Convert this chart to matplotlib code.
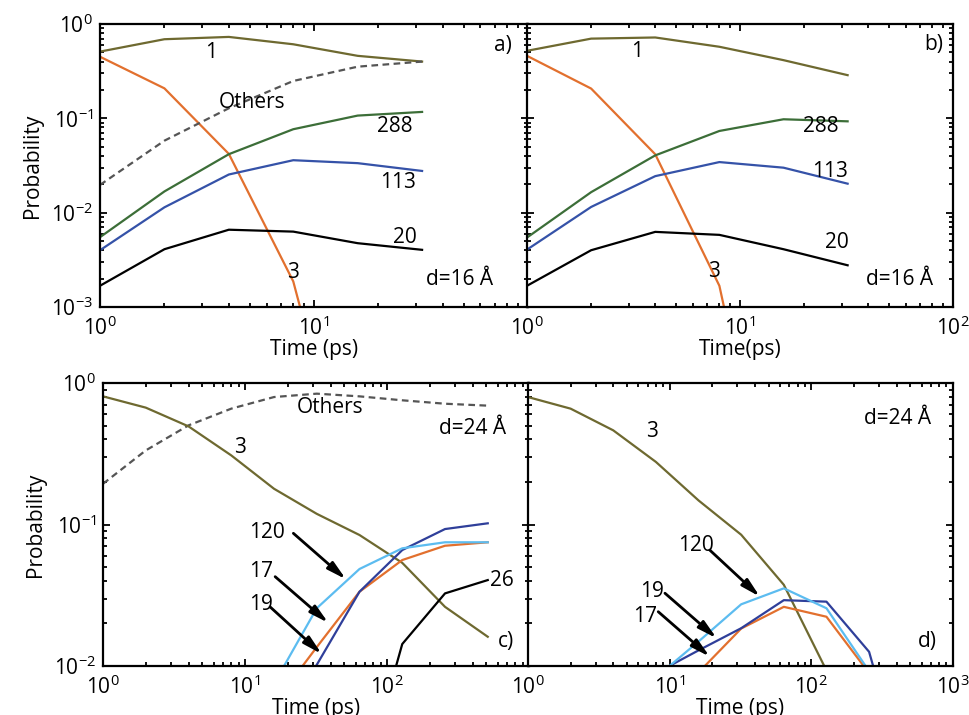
import numpy as np
import matplotlib
matplotlib.use("Agg")
import matplotlib.pyplot as plt
from matplotlib.ticker import LogLocator, NullFormatter

plt.rcParams['font.family'] = ['Open Sans', 'DejaVu Sans']
plt.rcParams['mathtext.fontset'] = 'custom'
plt.rcParams['mathtext.rm'] = 'Open Sans'
plt.rcParams['mathtext.it'] = 'Open Sans:italic'
plt.rcParams['font.size'] = 14

nan = np.nan

# d = 16 A, panels a) and b)
t16 = [1, 2, 4, 8, 16, 32]
a_1 = [0.51, 0.69, 0.73, 0.61, 0.46, 0.40]
a_3 = [0.45, 0.208, 0.042, 0.00187, 5e-6, 1e-8]
a_others = [0.0197, 0.058, 0.128, 0.249, 0.353, 0.40]
a_288 = [0.0055, 0.0168, 0.0417, 0.0767, 0.107, 0.117]
a_113 = [0.0040, 0.0114, 0.0254, 0.036, 0.0335, 0.0277]
a_20 = [0.00168, 0.0041, 0.0066, 0.0063, 0.00475, 0.00404]

b_1 = [0.52, 0.70, 0.72, 0.574, 0.414, 0.287]
b_3 = [0.46, 0.207, 0.0416, 0.00168, 1.3e-6, 1e-9]
b_288 = [0.00545, 0.0165, 0.0405, 0.0735, 0.0978, 0.093]
b_113 = [0.00406, 0.0115, 0.0244, 0.0344, 0.030, 0.0203]
b_20 = [0.00168, 0.0040, 0.00626, 0.00582, 0.0041, 0.00277]

# d = 24 A, panels c) and d)
t24 = [1, 2, 4, 8, 16, 32, 64, 128, 256, 512]
c_3 = [0.805, 0.67, 0.494, 0.308, 0.179, 0.119, 0.0843, 0.0536, 0.0262, 0.0161]
c_others = [0.194, 0.334, 0.502, 0.659, 0.796, 0.841, 0.805, 0.755, 0.714, 0.692]
c_120 = [nan, nan, nan, nan, 0.0075, 0.0256, 0.0485, 0.0679, 0.0749, 0.0749]
c_17 = [nan, nan, nan, nan, 0.0054, 0.0136, 0.0335, 0.0561, 0.0708, 0.0749]
c_19 = [nan, nan, nan, nan, 0.0031, 0.0102, 0.0335, 0.066, 0.0929, 0.102]
c_26 = [nan, nan, nan, nan, nan, nan, 0.0012, 0.0143, 0.0326, 0.0405]

d_3 = [0.796, 0.659, 0.463, 0.277, 0.148, 0.0847, 0.0375, 0.0093, nan, nan]
d_120 = [nan, nan, nan, 0.0083, 0.0149, 0.0273, 0.0354, 0.0256, 0.0092, nan]
d_19 = [nan, nan, nan, 0.0089, 0.0129, 0.0185, 0.0292, 0.0285, 0.0126, 0.0011]
d_17 = [nan, nan, nan, nan, 0.009, 0.0184, 0.0262, 0.0223, 0.0089, nan]

olive = '#6e6930'
orange = '#e2702e'
green = '#3c6e38'
blue = '#3552a8'
dblue = '#2f3f9a'
lblue = '#5cbcf0'
grey = '#555555'
lw = 1.6


def style(ax, xmax, ymin, ylabels, xlabels, xlabel, ylabel=None):
    ax.set_xscale('log')
    ax.set_yscale('log')
    ax.set_xlim(1, xmax)
    ax.set_ylim(ymin, 1)
    for s in ax.spines.values():
        s.set_linewidth(1.6)
    ax.xaxis.set_minor_locator(LogLocator(base=10, subs=np.arange(2, 10)))
    ax.yaxis.set_minor_locator(LogLocator(base=10, subs=np.arange(2, 10)))
    ax.xaxis.set_minor_formatter(NullFormatter())
    ax.yaxis.set_minor_formatter(NullFormatter())
    ax.tick_params(which='both', direction='in', top=True, right=True, width=1.3)
    ax.tick_params(which='major', length=5)
    ax.tick_params(which='minor', length=3)
    ax.tick_params(axis='x', which='major', pad=7, labelsize=15)
    ax.tick_params(axis='y', which='major', pad=5, labelsize=15)
    xt = [10.0 ** k for k in range(len(xlabels))]
    ax.set_xticks(xt)
    ax.set_xticklabels(xlabels)
    yt = [10.0 ** -k for k in range(len(ylabels))]
    ax.set_yticks(yt)
    ax.set_yticklabels(ylabels)
    ax.set_xlabel(xlabel, fontsize=15, labelpad=-1)
    if ylabel:
        ax.set_ylabel(ylabel, fontsize=15, labelpad=6)


fig = plt.figure(figsize=(9.7, 7.15), dpi=100)

# a)
ax = fig.add_axes([0.1031, 0.5706, 0.4412, 0.3958])
ax.plot(t16, a_1, color=olive, lw=lw)
ax.plot(t16, a_3, color=orange, lw=lw)
ax.plot(t16, a_others, color=grey, lw=lw, ls=(0, (3, 2)))
ax.plot(t16, a_288, color=green, lw=lw)
ax.plot(t16, a_113, color=blue, lw=lw)
ax.plot(t16, a_20, color='black', lw=lw)
style(ax, 100, 1e-3, ['$10^{0}$', '$10^{-1}$', '$10^{-2}$', '$10^{-3}$'],
      ['$10^{0}$', '$10^{1}$', ''], 'Time (ps)', 'Probability')
for s, x, y in [('1', 3.3, 0.505), ('Others', 5.13, 0.149), ('288', 23.9, 0.081),
                ('113', 24.7, 0.0211), ('20', 26.6, 0.00552), ('3', 7.97, 0.00235),
                ('d=16 Å', 48.1, 0.00198), ('a)', 76.4, 0.585)]:
    ax.text(x, y, s, ha='center', va='center', fontsize=15)

# b)
ax = fig.add_axes([0.5433, 0.5706, 0.4392, 0.3958])
ax.plot(t16, b_1, color=olive, lw=lw)
ax.plot(t16, b_3, color=orange, lw=lw)
ax.plot(t16, b_288, color=green, lw=lw)
ax.plot(t16, b_113, color=blue, lw=lw)
ax.plot(t16, b_20, color='black', lw=lw)
style(ax, 100, 1e-3, ['', '', '', ''],
      ['$10^{0}$', '$10^{1}$', '$10^{2}$'], 'Time(ps)')
for s, x, y in [('1', 3.28, 0.516), ('288', 24.0, 0.082), ('113', 26.5, 0.0273),
                ('20', 28.5, 0.0048), ('3', 7.55, 0.00236),
                ('d=16 Å', 56.4, 0.00194), ('b)', 81.5, 0.613)]:
    ax.text(x, y, s, ha='center', va='center', fontsize=15)

arrow = dict(arrowstyle='-|>,head_width=0.2,head_length=0.8', color='black',
             lw=2, shrinkA=0, shrinkB=0)

# c)
ax = fig.add_axes([0.1062, 0.0685, 0.4392, 0.3958])
ax.plot(t24, c_others, color=grey, lw=lw, ls=(0, (3, 2)))
ax.plot(t24, c_3, color=olive, lw=lw)
ax.plot(t24, c_26, color='black', lw=lw)
ax.plot(t24, c_17, color=orange, lw=lw)
ax.plot(t24, c_19, color=dblue, lw=lw)
ax.plot(t24, c_120, color=lblue, lw=lw)
style(ax, 1000, 1e-2, ['$10^{0}$', '$10^{-1}$', '$10^{-2}$'],
      ['$10^{0}$', '$10^{1}$', '$10^{2}$', ''], 'Time (ps)', 'Probability')
for s, x, y in [('Others', 39.7, 0.671), ('d=24 Å', 403, 0.481), ('3', 9.22, 0.353),
                ('120', 14.3, 0.0885), ('17', 12.97, 0.0462), ('19', 12.97, 0.0274),
                ('26', 645, 0.0405), ('c)', 689, 0.0148)]:
    ax.text(x, y, s, ha='center', va='center', fontsize=15)
ax.annotate('', xy=(51.4, 0.041), xytext=(21.9, 0.0867), arrowprops=arrow)
ax.annotate('', xy=(38.6, 0.0202), xytext=(16.3, 0.0428), arrowprops=arrow)
ax.annotate('', xy=(34.7, 0.01216), xytext=(15.0, 0.0262), arrowprops=arrow)

# d)
ax = fig.add_axes([0.5443, 0.0685, 0.4381, 0.3958])
ax.plot(t24, d_3, color=olive, lw=lw)
ax.plot(t24, d_17, color=orange, lw=lw)
ax.plot(t24, d_19, color=dblue, lw=lw)
ax.plot(t24, d_120, color=lblue, lw=lw)
style(ax, 1000, 1e-2, ['', '', ''],
      ['$10^{0}$', '$10^{1}$', '$10^{2}$', '$10^{3}$'], 'Time (ps)')
for s, x, y in [('3', 7.46, 0.453), ('d=24 Å', 408, 0.566), ('d)', 665, 0.0149),
                ('120', 15.3, 0.0716), ('19', 7.46, 0.0335), ('17', 6.7, 0.0223)]:
    ax.text(x, y, s, ha='center', va='center', fontsize=15)
ax.annotate('', xy=(43.4, 0.0309), xytext=(19.2, 0.066), arrowprops=arrow)
ax.annotate('', xy=(21.5, 0.0157), xytext=(9.27, 0.0327), arrowprops=arrow)
ax.annotate('', xy=(19.2, 0.01164), xytext=(8.31, 0.0242), arrowprops=arrow)

fig.savefig('out.png', dpi=100)
